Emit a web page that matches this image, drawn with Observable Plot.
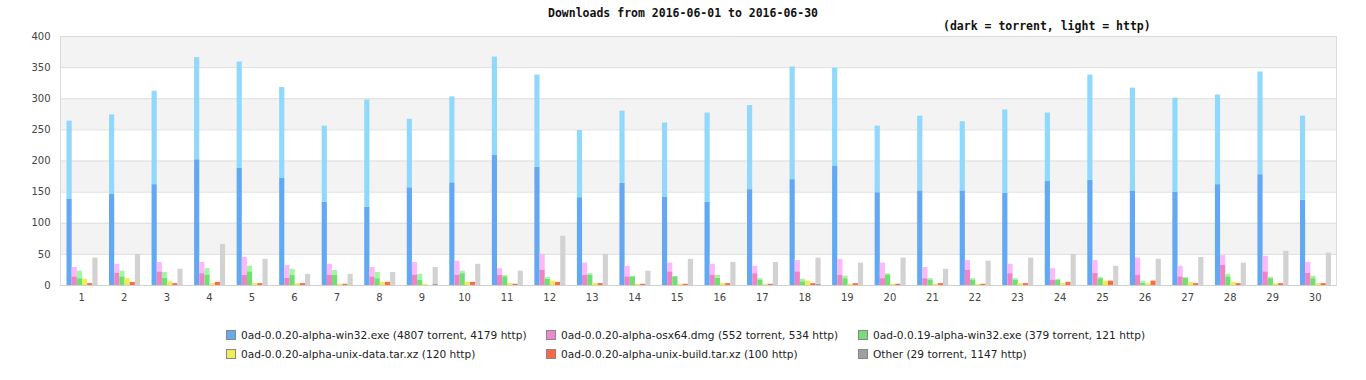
<!DOCTYPE html>
<html>
<head>
<meta charset="utf-8">
<script src="https://cdn.jsdelivr.net/npm/d3@7"></script>
<script src="https://cdn.jsdelivr.net/npm/@observablehq/plot@0.6"></script>
<style>
  html, body { margin: 0; padding: 0; background: #fff; }
  #wrap { position: relative; width: 1366px; height: 380px; overflow: hidden; }
  #chart { position: absolute; left: 0; top: 0; }
  .title { position: absolute; font-family: "DejaVu Sans Mono", monospace; font-weight: bold; font-size: 11.5px; color: #111; white-space: nowrap; }
  .leg { position: absolute; font-family: "DejaVu Sans", sans-serif; font-size: 10.6px; color: #222; white-space: nowrap; line-height: 12px; }
  .sw { position: absolute; width: 8px; height: 8px; border: 1px solid #888; }
</style>
</head>
<body>
<div id="wrap">
  <div id="chart"></div>
  <div class="title" id="title" style="left:483px; width:400px; text-align:center; top:6px;">Downloads from 2016-06-01 to 2016-06-30</div>
  <div class="title" id="subtitle" style="left:943px; top:19px;">(dark = torrent, light = http)</div>
  <div id="legend"></div>
</div>
<script>
// ---- data ----
const days = d3.range(1, 31);

const win32Torrent = [139,147,162,202,188,172,134,126,157,165,209,190,141,164,142,134,154,170,192,149,152,152,148,167,169,152,150,162,178,137];
const win32Http    = [125,127,150,164,171,146,122,172,110,138,158,148,108,116,119,143,135,181,157,107,120,111,134,110,169,165,151,144,165,135];

const osxTorrent = [14,20,22,19,16,12,17,14,17,17,16,25,16,14,22,17,19,22,17,11,11,25,19,9,20,17,14,33,22,20];
const osxHttp    = [15,14,15,18,29,20,17,15,20,22,11,25,20,17,14,17,12,18,25,25,18,15,15,18,20,27,17,15,25,17];

const w019Torrent = [11,14,12,17,22,16,16,11,9,19,14,10,17,14,14,12,9,6,11,17,9,9,9,8,11,4,12,14,11,11];
const w019Http    = [12,9,9,10,9,10,8,10,9,4,2,3,2,1,0,4,2,4,4,2,2,2,2,2,2,3,0,4,2,4];

const unixDataHttp  = [10,11,6,3,3,3,2,5,2,5,3,7,3,2,2,3,2,7,2,2,2,2,3,3,7,3,5,5,3,3];
const unixBuildHttp = [3,5,3,5,3,3,2,5,0,5,2,5,3,2,2,3,2,3,3,2,3,2,3,5,7,7,3,3,3,3];

const otherTorrent = [0,0,0,0,0,0,0,0,2,0,0,0,0,0,0,0,0,2,0,0,0,0,0,0,0,0,0,0,0,0];
const otherHttp    = [44,50,26,66,42,18,18,21,27,34,23,79,50,23,42,37,37,42,36,44,26,39,44,50,31,42,45,36,55,52];

const seriesNames = [
  "0ad-0.0.20-alpha-win32.exe (4807 torrent, 4179 http)",
  "0ad-0.0.20-alpha-osx64.dmg (552 torrent, 534 http)",
  "0ad-0.0.19-alpha-win32.exe (379 torrent, 121 http)",
  "0ad-0.0.20-alpha-unix-data.tar.xz (120 http)",
  "0ad-0.0.20-alpha-unix-build.tar.xz (100 http)",
  "Other (29 torrent, 1147 http)"
];
const darkColors  = ["#62a8f2", "#f082c8", "#6fe06f", "#eeee55", "#ff6a40", "#a0a0a0"];
const lightColors = ["#90d8fc", "#fdb8fc", "#a2f8a2", "#eeee55", "#ff6a40", "#d2d2d2"];
const legendColors = ["#66aaee", "#ee88cc", "#77dd77", "#eeee55", "#ff6644", "#a0a0a0"];

const torrentArrays = [win32Torrent, osxTorrent, w019Torrent, null, null, otherTorrent];
const httpArrays    = [win32Http, osxHttp, w019Http, unixDataHttp, unixBuildHttp, otherHttp];

const yTicks = d3.range(0, 401, 50);
const shaded = yTicks.filter((t, i) => i % 2 === 1); // bands 50-100, 150-200, ...

// ---- layout ----
const W = 1366, H = 310, mL = 60, mR = 30, mT = 36, mB = 25;
const step = (W - mL - mR) / days.length;
const groupStart = 6.5, barW = 5.17;

const barMarks = [];
seriesNames.forEach((name, i) => {
  const rows = [];
  days.forEach((d, j) => {
    if (torrentArrays[i]) rows.push({day: d, v: torrentArrays[i][j], c: darkColors[i]});
    rows.push({day: d, v: httpArrays[i][j], c: lightColors[i]});
  });
  const insetLeft = groupStart + i * barW;
  const insetRight = step - groupStart - (i + 1) * barW;
  barMarks.push(Plot.barY(rows, {x: "day", y: "v", fill: "c", insetLeft, insetRight}));
});

const chart = Plot.plot({
  width: W, height: H,
  marginLeft: mL, marginRight: mR, marginTop: mT, marginBottom: mB,
  style: {fontFamily: "DejaVu Sans, sans-serif", fontSize: "10px", color: "#444", background: "#fff"},
  x: {type: "band", domain: days, padding: 0, round: false, label: null, tickSize: 0, tickPadding: 8},
  y: {domain: [0, 400], ticks: yTicks, label: null, tickSize: 0, tickPadding: 10},
  color: {type: "identity"},
  marks: [
    Plot.rectY(shaded, {y1: d => d, y2: d => d + 50, fill: "#f3f3f3"}),
    Plot.ruleY(yTicks, {stroke: "#dedede"}),
    ...barMarks,
    Plot.frame({stroke: "#dcdcdc"}),
    Plot.ruleY([0], {stroke: "#d0d0d0"})
  ]
});
document.getElementById("chart").appendChild(chart);

// ---- legend ----
const legend = document.getElementById("legend");
const legPos = [[226, 330], [546, 330], [858, 330], [226, 349], [546, 349], [858, 349]];
seriesNames.forEach((name, i) => {
  const [x, y] = legPos[i];
  const sw = document.createElement("div");
  sw.className = "sw";
  sw.style.left = x + "px"; sw.style.top = y + "px";
  sw.style.background = legendColors[i];
  legend.appendChild(sw);
  const t = document.createElement("div");
  t.className = "leg";
  t.style.left = (x + 15) + "px"; t.style.top = (y - 1) + "px";
  t.textContent = name;
  legend.appendChild(t);
});
</script>
</body>
</html>
